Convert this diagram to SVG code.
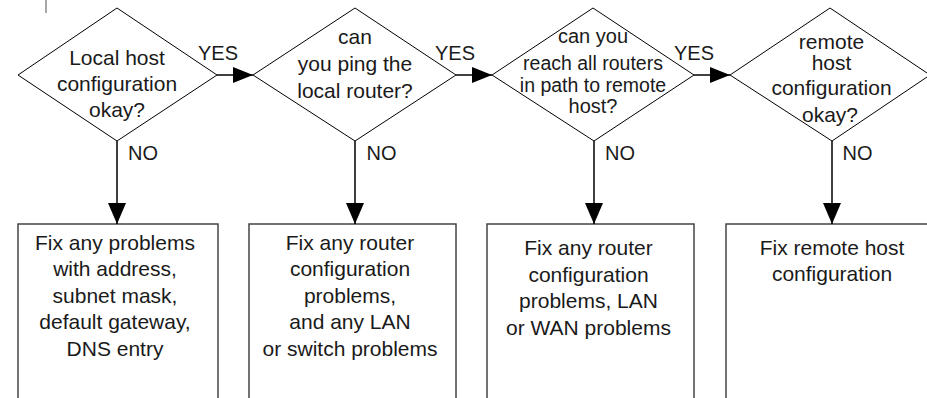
<svg xmlns="http://www.w3.org/2000/svg" width="927" height="398" viewBox="0 0 927 398">
  <style>
    .bg { fill: #ffffff; }
    .decision { fill: #ffffff; stroke: #000000; stroke-width: 1; }
    .action { fill: #ffffff; stroke: #444444; stroke-width: 1.5; }
    .flow { fill: none; stroke: #000000; stroke-width: 1.5; }
    .txt { font-family: "Liberation Sans", Arial, sans-serif; font-size: 21px; fill: #1a1a1a; text-anchor: middle; }
    .lbl { font-family: "Liberation Sans", Arial, sans-serif; font-size: 20px; fill: #1a1a1a; }
  </style>
  <defs>
    <marker id="arrowH" markerUnits="userSpaceOnUse" markerWidth="22" markerHeight="18" refX="20" refY="8" orient="auto">
      <path d="M0,0 L20,8 L0,16 Z" fill="#000000"/>
    </marker>
    <marker id="arrowV" markerUnits="userSpaceOnUse" markerWidth="22" markerHeight="20" refX="21" refY="9" orient="auto">
      <path d="M0,0 L21,9 L0,18 Z" fill="#000000"/>
    </marker>
  </defs>

  <rect class="bg" x="0" y="0" width="927" height="398"/>
  <!-- small margin tick at top left -->
  <line x1="46" y1="0" x2="46" y2="13" stroke="#8a8a8a" stroke-width="1.5"/>

  <!-- decisions -->
  <g id="d1">
    <polygon class="decision" points="117,8 217,75 117,141 18,75"/>
    <text class="txt" x="117" y="65">Local host</text>
    <text class="txt" x="117" y="91">configuration</text>
    <text class="txt" x="117" y="117">okay?</text>
  </g>
  <g id="d2">
    <polygon class="decision" points="355,8 456,75 355,141 253,75"/>
    <text class="txt" x="355" y="43.5">can</text>
    <text class="txt" x="355" y="70.5">you ping the</text>
    <text class="txt" x="355" y="97.5">local router?</text>
  </g>
  <g id="d3">
    <polygon class="decision" points="593,8 694,75 594,141 492,75"/>
    <text class="txt" x="593" y="43" style="font-size:20px">can you</text>
    <text class="txt" x="593" y="69.5" style="font-size:19.5px">reach all routers</text>
    <text class="txt" x="593" y="92" style="font-size:19.5px">in path to remote</text>
    <text class="txt" x="593" y="113" style="font-size:20px">host?</text>
  </g>
  <g id="d4">
    <polygon class="decision" points="830,8 930,75 832,141 730,75"/>
    <text class="txt" x="831.5" y="48.5">remote</text>
    <text class="txt" x="831.5" y="69.5">host</text>
    <text class="txt" x="831.5" y="95">configuration</text>
    <text class="txt" x="830" y="121.5">okay?</text>
  </g>

  <!-- actions -->
  <g id="a1">
    <rect class="action" x="18" y="224" width="200" height="190"/>
    <text class="txt" x="115" y="250">Fix any problems</text>
    <text class="txt" x="115" y="276">with address,</text>
    <text class="txt" x="115" y="302.5">subnet mask,</text>
    <text class="txt" x="115" y="329">default gateway,</text>
    <text class="txt" x="115" y="355.5">DNS entry</text>
  </g>
  <g id="a2">
    <rect class="action" x="249" y="224" width="207" height="190"/>
    <text class="txt" x="350" y="250">Fix any router</text>
    <text class="txt" x="350" y="276">configuration</text>
    <text class="txt" x="350" y="302.5">problems,</text>
    <text class="txt" x="350" y="329">and any LAN</text>
    <text class="txt" x="350" y="355.5">or switch problems</text>
  </g>
  <g id="a3">
    <rect class="action" x="487" y="224" width="207" height="190"/>
    <text class="txt" x="588.5" y="255">Fix any router</text>
    <text class="txt" x="588.5" y="281.5">configuration</text>
    <text class="txt" x="588.5" y="308">problems, LAN</text>
    <text class="txt" x="588.5" y="334.5">or WAN problems</text>
  </g>
  <g id="a4">
    <rect class="action" x="726" y="224" width="220" height="190"/>
    <text class="txt" x="832" y="255">Fix remote host</text>
    <text class="txt" x="832" y="281">configuration</text>
  </g>

  <!-- connectors -->
  <g id="connectors">
    <line class="flow" x1="217" y1="75" x2="253" y2="75" marker-end="url(#arrowH)"/>
    <line class="flow" x1="456" y1="75" x2="492" y2="75" marker-end="url(#arrowH)"/>
    <line class="flow" x1="694" y1="75" x2="730" y2="75" marker-end="url(#arrowH)"/>
    <line class="flow" x1="117" y1="141" x2="117" y2="224" marker-end="url(#arrowV)"/>
    <line class="flow" x1="355" y1="141" x2="355" y2="224" marker-end="url(#arrowV)"/>
    <line class="flow" x1="594" y1="141" x2="594" y2="224" marker-end="url(#arrowV)"/>
    <line class="flow" x1="832" y1="141" x2="832" y2="224" marker-end="url(#arrowV)"/>
    <text class="lbl" x="198" y="60">YES</text>
    <text class="lbl" x="435" y="60">YES</text>
    <text class="lbl" x="674" y="60">YES</text>
    <text class="lbl" x="128" y="159.5">NO</text>
    <text class="lbl" x="366.5" y="159.5">NO</text>
    <text class="lbl" x="605" y="159.5">NO</text>
    <text class="lbl" x="842.5" y="159.5">NO</text>
  </g>
</svg>
